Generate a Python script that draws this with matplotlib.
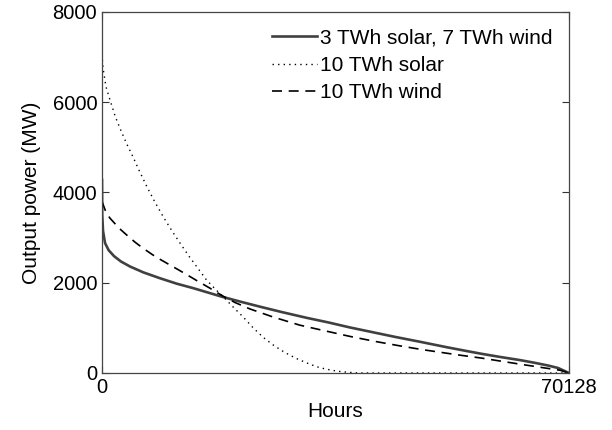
import matplotlib
matplotlib.use("Agg")
import matplotlib.pyplot as plt  # type: ignore

# duration curves
hours_mix = [0, 30, 150, 450, 1000, 1800, 2850, 4200, 6200, 8700, 11200, 13700,
             16200, 18000, 20800, 23700, 27000, 30800, 34000, 37200, 40600, 44000,
             47800, 51800, 55000, 57000, 60000, 62800, 65000, 67000, 68500, 70128]
power_mix = [4280, 3500, 3150, 2880, 2720, 2590, 2470, 2360, 2230, 2100, 1980, 1880,
             1770, 1690, 1580, 1470, 1350, 1220, 1120, 1010, 905, 800,
             690, 570, 480, 425, 350, 285, 225, 165, 110, 0]

hours_solar = [0, 20, 150, 600, 1200, 1950, 2700, 3700, 4650, 5600, 6700, 7900,
               9200, 10500, 11800, 13000, 14300, 15700, 17000, 18200, 19700, 21200,
               22700, 24200, 25800, 27500, 29200, 30800, 32200, 33500, 35300, 37000,
               38500, 70128]
power_solar = [7800, 7000, 6760, 6340, 6050, 5700, 5420, 5080, 4790, 4480, 4140, 3800,
               3460, 3150, 2860, 2600, 2340, 2060, 1860, 1690, 1460, 1240,
               1000, 790, 610, 450, 320, 220, 140, 90, 40, 15,
               0, 0]

hours_wind = [0, 600, 1200, 2000, 2850, 4000, 4950, 6200, 7600, 8700, 10000, 11200,
              12600, 14200, 16200, 18200, 20000, 22200, 25700, 29700, 32700, 37250,
              41000, 44760, 48000, 51200, 54000, 57000, 60000, 62800, 65000, 67000,
              68800, 70128]
power_wind = [3800, 3560, 3430, 3300, 3170, 3020, 2900, 2760, 2620, 2520, 2410, 2310,
              2190, 2050, 1880, 1700, 1560, 1420, 1240, 1060, 960, 810,
              700, 600, 520, 450, 390, 330, 260, 195, 145, 100,
              60, 0]

labels = ["3 TWh solar, 7 TWh wind", "10 TWh solar", "10 TWh wind"]
x_ticks = [0, 70128]
y_ticks = [0, 2000, 4000, 6000, 8000]


def main():
    plt.rcParams["font.family"] = ["Liberation Sans", "DejaVu Sans"]
    plt.rcParams["font.size"] = 15

    fig = plt.figure(figsize=(6.12, 4.30), dpi=100)
    ax = fig.add_axes([0.1667, 0.1326, 0.763, 0.8395])

    ax.plot(hours_mix, power_mix, color="#404040", lw=1.9, ls="-", label=labels[0])
    ax.plot(hours_solar, power_solar, color="black", lw=1.0, ls=(0, (1, 3)), label=labels[1])
    ax.plot(hours_wind, power_wind, color="black", lw=1.2, ls=(0, (6, 4)), label=labels[2])

    ax.set_xlim(0, 70128)
    ax.set_ylim(0, 8000)
    ax.set_xticks(x_ticks)
    ax.set_yticks(y_ticks)
    ax.tick_params(direction="in", top=True, right=True, length=5, width=0.8,
                   colors="#333333", labelcolor="black", labelsize=14.5)
    for s in ax.spines.values():
        s.set_color("#444444")
        s.set_linewidth(0.9)

    ax.set_xlabel("Hours", fontsize=15, labelpad=4)
    ax.set_ylabel("Output power (MW)", fontsize=15, labelpad=8)

    ax.legend(loc="upper right", frameon=False, fontsize=15, handlelength=2.15,
              handletextpad=0.15, labelspacing=0.4, borderaxespad=0.4)

    fig.savefig("out.png", dpi=100)


if __name__ == "__main__":
    main()
